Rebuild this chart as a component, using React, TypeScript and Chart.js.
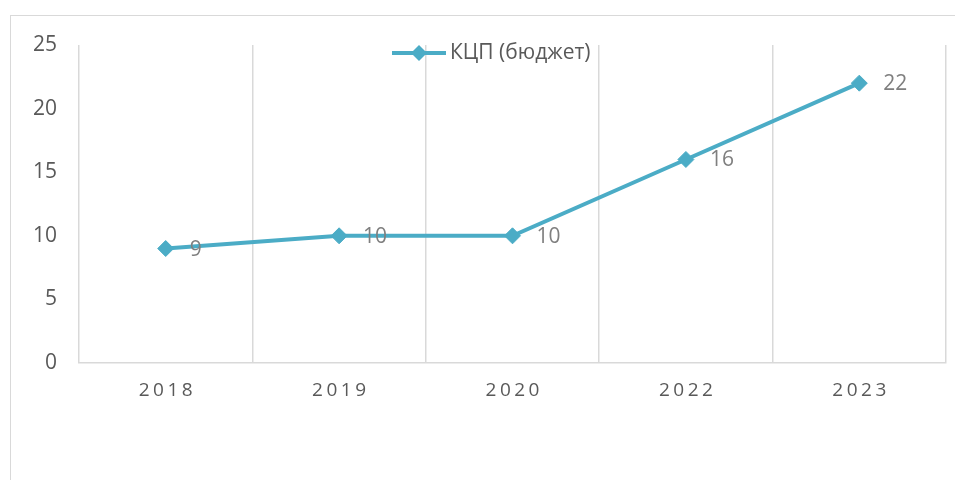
import React, { useEffect, useRef } from "react";
import { Chart, registerables } from "chart.js";

Chart.register(...registerables);

const categories = ["2018", "2019", "2020", "2022", "2023"];
const seriesValues = [9, 10, 10, 16, 22];
const seriesName = "КЦП (бюджет)";
const yTicks = [0, 5, 10, 15, 20, 25];

const LINE_COLOR = "#4BACC6";
const GRID_COLOR = "#d9d9d9";
const TEXT_COLOR = "#595959";
const LABEL_COLOR = "#7f7f7f";
const FONT = "'Open Sans', sans-serif";

const customPlugin = {
  id: "custom",
  afterDraw(chart: any) {
    const ctx = chart.ctx as CanvasRenderingContext2D;
    const xs = chart.scales.x;
    const area = chart.chartArea;
    // x labels with letter spacing
    ctx.save();
    ctx.font = `19px ${FONT}`;
    ctx.fillStyle = TEXT_COLOR;
    ctx.textAlign = "center";
    ctx.textBaseline = "middle";
    (ctx as any).letterSpacing = "3.5px";
    categories.forEach((c, i) => {
      const x = xs.getPixelForValue(i);
      ctx.fillText(c, x + 1.75, area.bottom + 28);
    });
    ctx.restore();

    // data labels
    const meta = chart.getDatasetMeta(0);
    ctx.save();
    ctx.font = `21px ${FONT}`;
    ctx.fillStyle = LABEL_COLOR;
    ctx.textAlign = "left";
    ctx.textBaseline = "middle";
    meta.data.forEach((pt: any, i: number) => {
      ctx.fillText(String(seriesValues[i]), pt.x + 24, pt.y + 1);
    });
    ctx.restore();

    // legend
    ctx.save();
    const ly = 53;
    const lx0 = 392;
    const lx1 = 446;
    ctx.strokeStyle = LINE_COLOR;
    ctx.lineWidth = 4;
    ctx.beginPath();
    ctx.moveTo(lx0, ly);
    ctx.lineTo(lx1, ly);
    ctx.stroke();
    const cx = (lx0 + lx1) / 2;
    const r = 8;
    ctx.fillStyle = LINE_COLOR;
    ctx.beginPath();
    ctx.moveTo(cx, ly - r);
    ctx.lineTo(cx + r, ly);
    ctx.lineTo(cx, ly + r);
    ctx.lineTo(cx - r, ly);
    ctx.closePath();
    ctx.fill();
    ctx.font = `21px ${FONT}`;
    ctx.fillStyle = TEXT_COLOR;
    ctx.textAlign = "left";
    ctx.textBaseline = "middle";
    ctx.fillText(seriesName, 450, ly);
    ctx.restore();
  },
};

export default function App() {
  const canvasRef = useRef<HTMLCanvasElement | null>(null);

  useEffect(() => {
    document.body.style.margin = "0";
    const canvas = canvasRef.current;
    if (!canvas) return;
    const chart = new Chart(canvas, {
      type: "line",
      data: {
        labels: categories,
        datasets: [
          {
            label: seriesName,
            data: seriesValues,
            borderColor: LINE_COLOR,
            backgroundColor: LINE_COLOR,
            borderWidth: 4,
            tension: 0,
            pointStyle: "rectRot",
            pointRadius: 8,
            pointHoverRadius: 8,
            pointBackgroundColor: LINE_COLOR,
            pointBorderColor: LINE_COLOR,
            pointBorderWidth: 1,
          },
        ],
      },
      options: {
        responsive: false,
        animation: false,
        devicePixelRatio: 1,
        layout: { padding: { left: 0, right: 9, top: 45, bottom: 0 } },
        plugins: {
          legend: { display: false },
          tooltip: { enabled: false },
        },
        scales: {
          x: {
            type: "category",
            offset: true,
            grid: {
              display: true,
              offset: true,
              color: GRID_COLOR,
              lineWidth: 1.5,
              drawTicks: false,
            },
            border: { display: true, color: GRID_COLOR, width: 1.5 },
            ticks: { display: false },
            afterFit: (scale: any) => {
              scale.height = 117;
            },
          },
          y: {
            min: 0,
            max: 25,
            afterBuildTicks: (scale: any) => {
              scale.ticks = yTicks.map((v) => ({ value: v }));
            },
            grid: { display: false, drawTicks: false },
            border: { display: false },
            ticks: {
              stepSize: 5,
              padding: 22,
              color: TEXT_COLOR,
              font: { family: FONT, size: 21 },
            },
            afterFit: (scale: any) => {
              scale.width = 79;
            },
          },
        },
      },
      plugins: [customPlugin],
    });
    return () => chart.destroy();
  }, []);

  return (
    <div
      style={{
        position: "relative",
        width: 955,
        height: 480,
        overflow: "hidden",
        background: "#ffffff",
      }}
    >
      <div
        style={{
          position: "absolute",
          left: 10,
          top: 15,
          width: 960,
          height: 480,
          border: `1px solid ${GRID_COLOR}`,
          boxSizing: "border-box",
        }}
      />
      <canvas
        ref={canvasRef}
        width={955}
        height={480}
        style={{ position: "absolute", left: 0, top: 0, width: 955, height: 480 }}
      />
    </div>
  );
}
